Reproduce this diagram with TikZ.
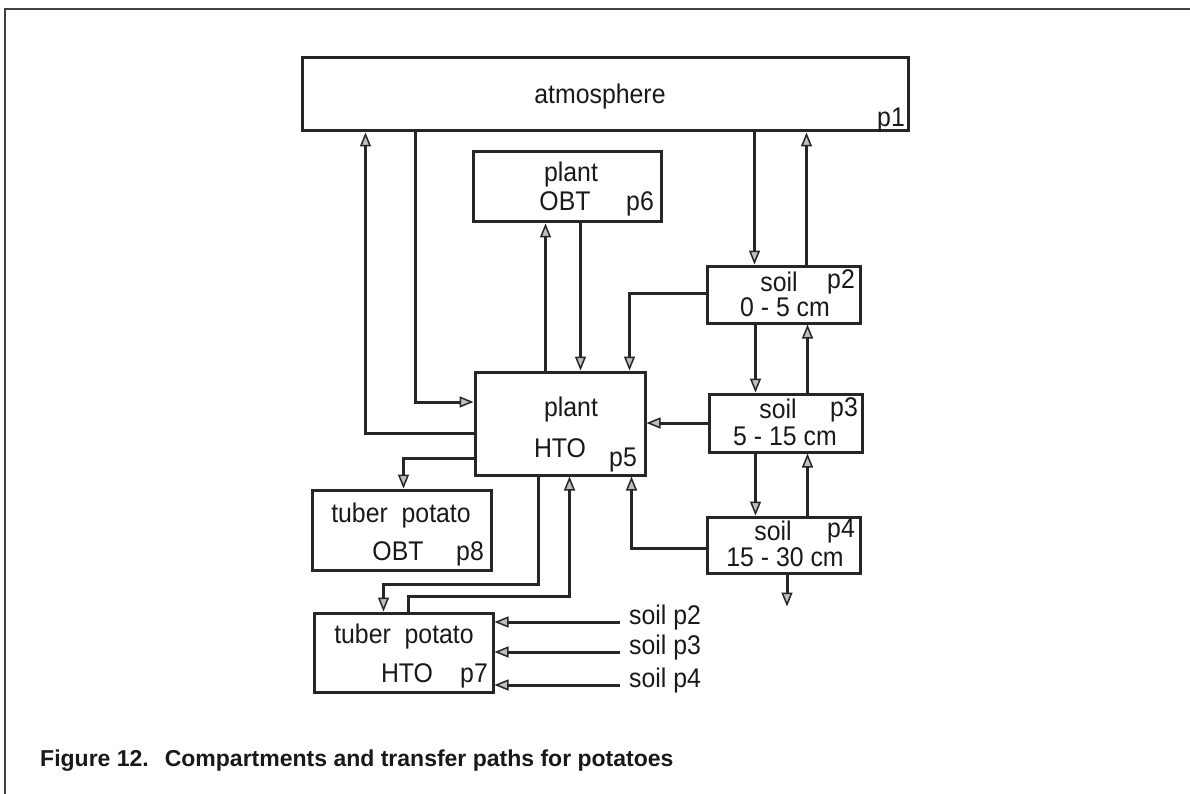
\documentclass[tikz,border=0pt]{standalone}
\usepackage{fontspec}
\setmainfont{Liberation Sans}
\newfontfamily\diagfont[FakeStretch=0.92]{Liberation Sans}
\newfontfamily\capfont{Liberation Sans}
\usetikzlibrary{arrows.meta}
\begin{document}
\begin{tikzpicture}[x=1pt,y=-1pt,
  box/.style={draw=black!85, line width=3pt, inner sep=0pt},
  txt/.style={font=\diagfont\fontsize{27}{27}\selectfont, text=black!90, inner sep=0pt, anchor=base},
  flow/.style={draw=black!85, line width=3pt,
     -{Triangle[length=14pt,width=11pt,line width=1.5pt,fill=gray!50]}},
  srclab/.style={font=\diagfont\fontsize{27}{27}\selectfont, text=black!90, inner ysep=0pt, inner xsep=9pt, anchor=mid west},
  frame/.style={draw=black!75, line width=2.5pt}
]
\useasboundingbox (0,0) rectangle (1190,794);
\draw[frame] (5,794) -- (5,9) -- (1190,9);

% boxes
\node[box, minimum width=606pt, minimum height=73pt] (atm) at (605,94.5) {};
\node[box, minimum width=188pt, minimum height=70pt] (obt6) at (567,187) {};
\node[box, minimum width=170pt, minimum height=103pt] (hto5) at (560,423.5) {};
\node[box, minimum width=153pt, minimum height=57pt] (soil2) at (783.5,294.5) {};
\node[box, minimum width=153pt, minimum height=58pt] (soil3) at (785.5,423) {};
\node[box, minimum width=153pt, minimum height=56pt] (soil4) at (783.5,545) {};
\node[box, minimum width=179pt, minimum height=80pt] (obt8) at (401.5,530) {};
\node[box, minimum width=179pt, minimum height=79pt] (hto7) at (403.5,652.5) {};

% texts
\node[txt] (t1) at (600,104) {atmosphere};
\node[txt] (t1p) at (891,127) {p1};
\node[txt] (t6a) at (571,182) {plant};
\node[txt] (t6b) at (565,211) {OBT};
\node[txt] (t6p) at (640,211) {p6};
\node[txt] (t5a) at (571,416) {plant};
\node[txt] (t5b) at (560,457) {HTO};
\node[txt] (t5p) at (623,466) {p5};
\node[txt] (t2a) at (779,291) {soil};
\node[txt] (t2p) at (841,288) {p2};
\node[txt] (t2b) at (785,316) {0 - 5 cm};
\node[txt] (t3a) at (778,418) {soil};
\node[txt] (t3p) at (844,416) {p3};
\node[txt] (t3b) at (785,445) {5 - 15 cm};
\node[txt] (t4a) at (773,540) {soil};
\node[txt] (t4p) at (841,537) {p4};
\node[txt] (t4b) at (785,566) {15 - 30 cm};
\node[txt] (t8a) at (401,522) {tuber\ \ potato};
\node[txt] (t8b) at (398,560) {OBT};
\node[txt] (t8p) at (470,560) {p8};
\node[txt] (t7a) at (404,643) {tuber\ \ potato};
\node[txt] (t7b) at (407,682) {HTO};
\node[txt] (t7p) at (474,682) {p7};

% source labels
\node[srclab] (s2) at (620,622) {soil p2};
\node[srclab] (s3) at (620,652) {soil p3};
\node[srclab] (s4) at (620,685) {soil p4};

% connectors
\coordinate (a1) at ([xshift=115pt]atm.south west);
\draw[flow] (a1) |- ([yshift=21.5pt]hto5.west);
\draw[flow] ([yshift=-9.5pt]hto5.west) -| ([xshift=65pt]atm.south west);
\coordinate (a3) at ([xshift=72pt]hto5.north west);
\draw[flow] (a3) -- (a3 |- obt6.south);
\coordinate (a4) at ([xshift=109pt]obt6.south west);
\draw[flow] (a4) -- (a4 |- hto5.north);
\coordinate (a5) at ([xshift=49pt]soil2.north west);
\draw[flow] (a5 |- atm.south) -- (a5);
\coordinate (a6) at ([xshift=101pt]soil2.north west);
\draw[flow] (a6) -- (a6 |- atm.south);
\draw[flow] ([yshift=1.5pt]soil2.west) -| ([xshift=-17pt]hto5.north east);
\coordinate (a8) at ([xshift=50pt]soil2.south west);
\draw[flow] (a8) -- (a8 |- soil3.north);
\coordinate (a9) at ([xshift=102pt]soil2.south west);
\draw[flow] (a9 |- soil3.north) -- (a9);
\draw[flow] (soil3.west) -- (soil3.west -| hto5.east);
\coordinate (a10) at ([xshift=48pt]soil3.south west);
\draw[flow] (a10) -- (a10 |- soil4.north);
\coordinate (a11) at ([xshift=100pt]soil3.south west);
\draw[flow] (a11 |- soil4.north) -- (a11);
\draw[flow] ([yshift=-3pt]soil4.west) -| ([xshift=-15pt]hto5.south east);
\coordinate (sink) at ([xshift=3.5pt,yshift=-32pt]soil4.south);
\draw[flow] (sink |- soil4.south) -- (sink);
\draw[flow] ([yshift=-34.5pt]hto5.west) -| ([xshift=93pt]obt8.north west);
\draw[flow] ([xshift=65pt]hto5.south west) -- ++(0,108) -| ([xshift=71pt]hto7.north west);
\draw[flow] ([xshift=96pt]hto7.north west) -- ++(0,-15) -| ([xshift=96pt]hto5.south west);
\draw[flow] (s2.mid west) -- (s2.mid west -| hto7.east);
\draw[flow] (s3.mid west) -- (s3.mid west -| hto7.east);
\draw[flow] (s4.mid west) -- (s4.mid west -| hto7.east);

% caption
\node[font=\capfont\bfseries\fontsize{23}{23}\selectfont, text=black!90, inner sep=0pt, anchor=base west] (cap) at (40,766)
  {Figure 12.\hspace{16pt}Compartments and transfer paths for potatoes};
\end{tikzpicture}
\end{document}
